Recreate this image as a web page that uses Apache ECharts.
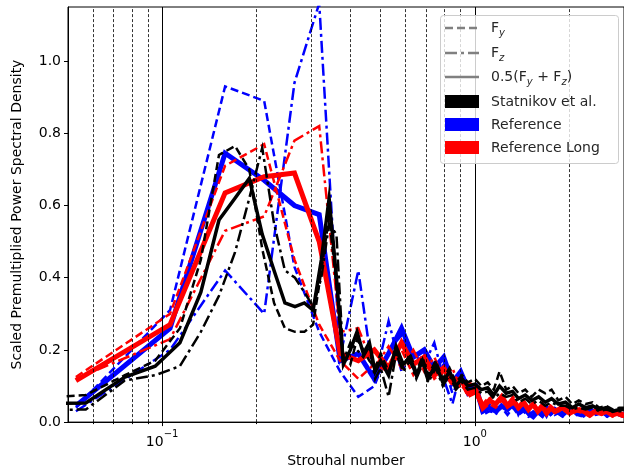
<!DOCTYPE html>
<html>
<head>
<meta charset="utf-8">
<script src="https://cdn.jsdelivr.net/npm/echarts@6/dist/echarts.min.js"></script>
<style>
  html, body { margin: 0; padding: 0; background: #fff; }
  #chart { width: 624px; height: 473px; }
</style>
</head>
<body>
<div id="chart"></div>
<script>
// Statnikov et al. frequencies and PSD
const statX = [0.038, 0.057, 0.076, 0.095, 0.114, 0.133, 0.152, 0.171, 0.19, 0.209, 0.228, 0.247, 0.266, 0.285, 0.304, 0.323, 0.342, 0.361, 0.38,
  0.40, 0.42, 0.44, 0.46, 0.48, 0.50, 0.53, 0.56, 0.59, 0.62, 0.65, 0.68, 0.71, 0.75, 0.79, 0.83, 0.87, 0.91, 0.95,
  1.0, 1.05, 1.1, 1.15, 1.2, 1.26, 1.32, 1.38, 1.45, 1.52, 1.6, 1.68, 1.76, 1.85, 1.95, 2.05, 2.15, 2.26, 2.38, 2.5, 2.63, 2.76, 2.9, 3.05];
const statFy = [0.065, 0.075, 0.13, 0.17, 0.26, 0.45, 0.74, 0.765, 0.7, 0.48, 0.33, 0.26, 0.25, 0.25, 0.27, 0.42, 0.57, 0.38, 0.18,
  0.16, 0.23, 0.2, 0.17, 0.15, 0.19, 0.14, 0.2, 0.15, 0.19, 0.14, 0.18, 0.13, 0.17, 0.12, 0.15, 0.11, 0.13, 0.11,
  0.12, 0.1, 0.11, 0.09, 0.14, 0.09, 0.1, 0.08, 0.09, 0.07, 0.09, 0.08, 0.09, 0.06, 0.07, 0.05, 0.06, 0.05, 0.055, 0.04, 0.045, 0.035, 0.04, 0.04];
const statFz = [0.033, 0.035, 0.115, 0.13, 0.155, 0.25, 0.35, 0.47, 0.62, 0.76, 0.55, 0.42, 0.4, 0.36, 0.32, 0.4, 0.55, 0.52, 0.17,
  0.22, 0.2, 0.18, 0.21, 0.12, 0.15, 0.07, 0.19, 0.14, 0.17, 0.12, 0.16, 0.11, 0.15, 0.1, 0.13, 0.09, 0.11, 0.09,
  0.095, 0.08, 0.085, 0.065, 0.08, 0.07, 0.075, 0.055, 0.065, 0.05, 0.06, 0.045, 0.055, 0.045, 0.045, 0.035, 0.04, 0.035, 0.04, 0.03, 0.035, 0.03, 0.03, 0.03];
const statAvg = [0.05, 0.053, 0.125, 0.155, 0.22, 0.36, 0.56, 0.62, 0.675, 0.52, 0.42, 0.33, 0.32, 0.33, 0.31, 0.45, 0.62, 0.4, 0.16,
  0.2, 0.25, 0.19, 0.22, 0.14, 0.17, 0.13, 0.21, 0.16, 0.18, 0.13, 0.17, 0.12, 0.16, 0.11, 0.14, 0.1, 0.12, 0.1,
  0.105, 0.09, 0.095, 0.075, 0.1, 0.08, 0.085, 0.065, 0.075, 0.06, 0.07, 0.055, 0.065, 0.05, 0.055, 0.04, 0.05, 0.04, 0.045, 0.035, 0.04, 0.03, 0.035, 0.035];

// Reference / Reference Long frequencies and PSD
const refX = [0.053, 0.106, 0.159, 0.212, 0.265, 0.318, 0.371, 0.424, 0.477, 0.53, 0.583, 0.636, 0.689, 0.742, 0.795, 0.848, 0.901, 0.954,
  1.007, 1.06, 1.113, 1.166, 1.219, 1.272, 1.325, 1.378, 1.431, 1.484, 1.537, 1.59, 1.643, 1.696, 1.749, 1.802,
  1.908, 2.014, 2.12, 2.226, 2.332, 2.438, 2.544, 2.65, 2.756, 2.862, 2.968, 3.074];
const refFy = [0.04, 0.31, 0.93, 0.89, 0.43, 0.25, 0.14, 0.07, 0.1, 0.2, 0.24, 0.15, 0.19, 0.13, 0.16, 0.08, 0.12, 0.07,
  0.09, 0.02, 0.03, 0.025, 0.04, 0.02, 0.04, 0.02, 0.03, 0.015, 0.02, 0.025, 0.015, 0.03, 0.02, 0.03,
  0.015, 0.035, 0.02, 0.015, 0.03, 0.02, 0.025, 0.015, 0.025, 0.02, 0.015, 0.02];
const refFz = [0.03, 0.2, 0.42, 0.3, 0.94, 1.16, 0.18, 0.42, 0.11, 0.28, 0.14, 0.19, 0.16, 0.22, 0.12, 0.05, 0.14, 0.08,
  0.1, 0.03, 0.05, 0.02, 0.05, 0.03, 0.06, 0.02, 0.045, 0.02, 0.03, 0.02, 0.035, 0.015, 0.04, 0.02,
  0.03, 0.045, 0.02, 0.03, 0.02, 0.035, 0.02, 0.03, 0.02, 0.03, 0.025, 0.02];
const refAvg = [0.045, 0.26, 0.745, 0.67, 0.6, 0.575, 0.17, 0.19, 0.12, 0.19, 0.26, 0.18, 0.2, 0.15, 0.18, 0.11, 0.14, 0.09,
  0.1, 0.03, 0.04, 0.03, 0.045, 0.035, 0.05, 0.03, 0.04, 0.025, 0.015, 0.03, 0.02, 0.04, 0.025, 0.035,
  0.02, 0.04, 0.03, 0.02, 0.035, 0.025, 0.03, 0.02, 0.03, 0.025, 0.02, 0.025];
const longFy = [0.125, 0.3, 0.71, 0.77, 0.45, 0.27, 0.17, 0.12, 0.16, 0.14, 0.2, 0.13, 0.17, 0.12, 0.14, 0.1, 0.11, 0.07,
  0.08, 0.035, 0.05, 0.04, 0.06, 0.04, 0.05, 0.035, 0.05, 0.03, 0.045, 0.025, 0.04, 0.02, 0.035, 0.025,
  0.035, 0.02, 0.03, 0.025, 0.015, 0.025, 0.02, 0.025, 0.015, 0.02, 0.015, 0.015];
const longFz = [0.12, 0.23, 0.53, 0.57, 0.78, 0.82, 0.25, 0.26, 0.15, 0.21, 0.15, 0.2, 0.14, 0.18, 0.12, 0.15, 0.09, 0.11,
  0.1, 0.05, 0.07, 0.05, 0.075, 0.05, 0.07, 0.045, 0.06, 0.04, 0.055, 0.035, 0.05, 0.03, 0.045, 0.035,
  0.045, 0.03, 0.04, 0.035, 0.025, 0.035, 0.03, 0.035, 0.025, 0.03, 0.025, 0.025];
const longAvg = [0.115, 0.27, 0.635, 0.68, 0.69, 0.5, 0.19, 0.17, 0.2, 0.15, 0.22, 0.16, 0.18, 0.13, 0.15, 0.11, 0.12, 0.08,
  0.09, 0.04, 0.06, 0.05, 0.07, 0.045, 0.06, 0.04, 0.055, 0.035, 0.05, 0.03, 0.045, 0.025, 0.04, 0.03,
  0.04, 0.025, 0.035, 0.03, 0.02, 0.03, 0.025, 0.03, 0.02, 0.025, 0.02, 0.02];

// vertical reference lines and y ticks
const majorX = [0.1, 1];
const minorX = [0.06, 0.07, 0.08, 0.09, 0.2, 0.3, 0.4, 0.5, 0.6, 0.7, 0.8, 0.9, 2];
const yTicks = [0, 0.2, 0.4, 0.6, 0.8, 1.0];

const DASH = [8, 4];
const DASHDOT = [12, 4, 3, 4];

function pairs(xs, ys) {
  return xs.map((x, i) => [x, ys[i]]);
}

function curve(name, xs, ys, color, type, width, z) {
  return {
    name, type: 'line', z,
    data: pairs(xs, ys),
    symbol: 'none',
    clip: true,
    lineStyle: { color, type, width, join: 'miter', cap: 'butt' },
    animation: false,
  };
}

const chart = echarts.init(document.getElementById('chart'));

const gridLines = {
  type: 'line', data: [], z: 1, silent: true, animation: false,
  markLine: {
    silent: true, symbol: 'none', animation: false,
    label: { show: false },
    data: minorX.map(v => ({ xAxis: v, lineStyle: { color: '#000', type: [3, 2], width: 0.8 } }))
      .concat(majorX.map(v => ({ xAxis: v, lineStyle: { color: '#000', type: 'solid', width: 1 } }))),
  },
};

const sub = { fontSize: 10, fontStyle: 'italic', verticalAlign: 'bottom', fontFamily: 'DejaVu Sans', fill: '#262626' };

chart.setOption({
  animation: false,
  grid: { left: 68, top: 7, right: -3, bottom: 50, show: true, borderColor: '#000', borderWidth: 1, backgroundColor: 'transparent' },
  xAxis: [{
    type: 'log', logBase: 10, min: 0.05, max: 3,
    name: 'Strouhal number', nameLocation: 'middle', nameGap: 30,
    nameTextStyle: { fontFamily: 'DejaVu Sans', fontSize: 14, color: '#000' },
    axisLine: { show: true, lineStyle: { color: '#000', width: 1 } },
    axisTick: { show: true, length: 4, lineStyle: { color: '#000' }, customValues: majorX },
    axisLabel: {
      color: '#000', fontFamily: 'DejaVu Sans', fontSize: 14, margin: 7,
      customValues: majorX,
      formatter: v => '{b|10}{s|' + (Math.round(Math.log10(v)) < 0 ? '\u22121' : '0') + '}',
      rich: {
        b: { fontSize: 14, fontFamily: 'DejaVu Sans', color: '#000', lineHeight: 20, verticalAlign: 'bottom' },
        s: { fontSize: 10, fontFamily: 'DejaVu Sans', color: '#000', verticalAlign: 'top' },
      },
    },
    splitLine: { show: false },
  }, {
    type: 'log', logBase: 10, min: 0.05, max: 3, position: 'bottom',
    axisLine: { show: false },
    axisTick: { show: true, length: 2, lineStyle: { color: '#000' }, customValues: minorX },
    axisLabel: { show: false },
    splitLine: { show: false },
  }],
  yAxis: {
    type: 'value', min: 0, max: 1.15,
    name: 'Scaled Premultiplied Power Spectral Density', nameLocation: 'middle', nameGap: 44,
    nameTextStyle: { fontFamily: 'DejaVu Sans', fontSize: 14, color: '#000' },
    axisLine: { show: true, lineStyle: { color: '#000', width: 1 } },
    axisTick: { show: true, length: 4, lineStyle: { color: '#000' }, customValues: yTicks },
    axisLabel: {
      color: '#000', fontFamily: 'DejaVu Sans', fontSize: 14, margin: 7,
      customValues: yTicks, formatter: v => v.toFixed(1),
    },
    splitLine: { show: false },
  },
  series: [
    gridLines,
    curve('refFy', refX, refFy, '#0000ff', DASH, 2.5, 3),
    curve('refFz', refX, refFz, '#0000ff', DASHDOT, 2.5, 3),
    curve('refAvg', refX, refAvg, '#0000ff', 'solid', 5, 3),
    curve('longFy', refX, longFy, '#ff0000', DASH, 2.5, 4),
    curve('longFz', refX, longFz, '#ff0000', DASHDOT, 2.5, 4),
    curve('longAvg', refX, longAvg, '#ff0000', 'solid', 5, 4),
    curve('statFy', statX, statFy, '#000000', DASH, 2.5, 5),
    curve('statFz', statX, statFz, '#000000', DASHDOT, 2.5, 5),
    curve('statAvg', statX, statAvg, '#000000', 'solid', 3.5, 5),
  ],
  graphic: [
    { type: 'rect', z: 100, shape: { x: 440.5, y: 15.5, width: 178, height: 148, r: 3 },
      style: { fill: 'rgba(255,255,255,0.8)', stroke: '#cccccc', lineWidth: 1 } },
    { type: 'line', z: 101, shape: { x1: 445, y1: 28, x2: 479, y2: 28 }, style: { stroke: '#808080', lineWidth: 2.5, lineDash: DASH } },
    { type: 'line', z: 101, shape: { x1: 445, y1: 53, x2: 479, y2: 53 }, style: { stroke: '#808080', lineWidth: 2.5, lineDash: DASHDOT } },
    { type: 'line', z: 101, shape: { x1: 445, y1: 77, x2: 479, y2: 77 }, style: { stroke: '#808080', lineWidth: 2.5 } },
    { type: 'rect', z: 101, shape: { x: 445, y: 95, width: 34, height: 13 }, style: { fill: '#000000' } },
    { type: 'rect', z: 101, shape: { x: 445, y: 118, width: 34, height: 13 }, style: { fill: '#0000ff' } },
    { type: 'rect', z: 101, shape: { x: 445, y: 141, width: 34, height: 13 }, style: { fill: '#ff0000' } },
    { type: 'text', z: 101, x: 491, y: 28, style: { text: '{m|F}{s|y}', rich: { m: { fontSize: 14, fontFamily: 'DejaVu Sans', fill: '#262626', lineHeight: 20 }, s: sub }, verticalAlign: 'middle' } },
    { type: 'text', z: 101, x: 491, y: 53, style: { text: '{m|F}{s|z}', rich: { m: { fontSize: 14, fontFamily: 'DejaVu Sans', fill: '#262626', lineHeight: 20 }, s: sub }, verticalAlign: 'middle' } },
    { type: 'text', z: 101, x: 491, y: 77, style: { text: '{m|0.5(F}{s|y}{m| + F}{s|z}{m|)}', rich: { m: { fontSize: 14, fontFamily: 'DejaVu Sans', fill: '#262626', lineHeight: 20 }, s: sub }, verticalAlign: 'middle' } },
    { type: 'text', z: 101, x: 491, y: 102, style: { text: 'Statnikov et al.', font: '14px "DejaVu Sans"', fill: '#262626', verticalAlign: 'middle' } },
    { type: 'text', z: 101, x: 491, y: 125, style: { text: 'Reference', font: '14px "DejaVu Sans"', fill: '#262626', verticalAlign: 'middle' } },
    { type: 'text', z: 101, x: 491, y: 148, style: { text: 'Reference Long', font: '14px "DejaVu Sans"', fill: '#262626', verticalAlign: 'middle' } },
  ],
});

window.addEventListener('resize', () => chart.resize());
</script>
</body>
</html>
